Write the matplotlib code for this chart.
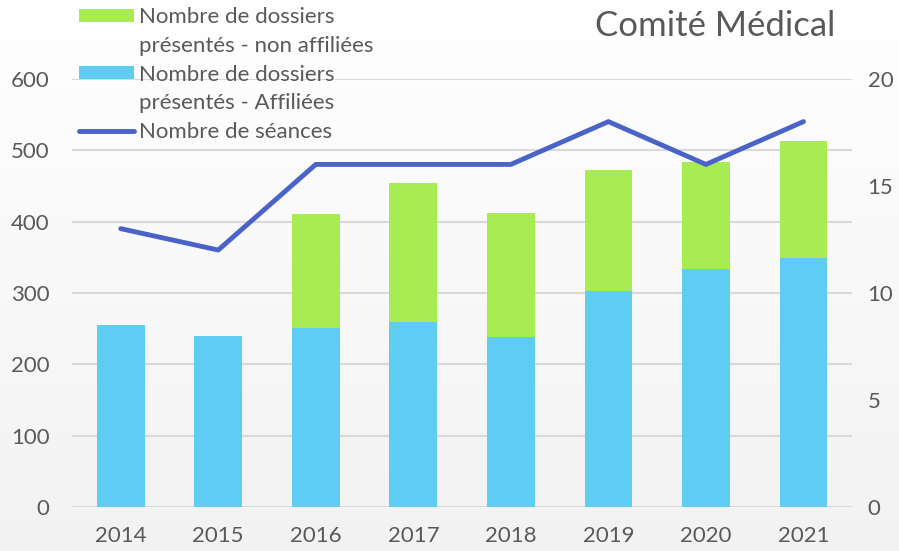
import numpy as np
import matplotlib.pyplot as plt
from matplotlib.patches import Patch

plt.rcParams['font.family'] = ['Lato', 'DejaVu Sans']

# données
annees = ['2014', '2015', '2016', '2017', '2018', '2019', '2020', '2021']
affiliees = [255, 240, 251, 259, 238, 303, 334, 349]
non_affiliees = [0, 0, 160, 195, 174, 169, 150, 164]
seances = [13, 12, 16, 16, 16, 18, 16, 18]

c_vert = '#A9EB52'
c_bleu = '#5FCCF3'
c_ligne = '#4A63C8'
c_texte = '#595959'

fig = plt.figure(figsize=(8.99, 5.51), dpi=100)

# fond en dégradé blanc -> gris clair
bg = fig.add_axes([0, 0, 1, 1], zorder=-10)
grad = np.linspace(1.0, 0.95, 256).reshape(-1, 1)
bg.imshow(np.dstack([grad, grad, grad]), aspect='auto', extent=[0, 1, 0, 1])
bg.axis('off')

ax = fig.add_axes([0.080, 0.080, 0.868, 0.777])
ax.patch.set_alpha(0)
x = np.arange(len(annees))
b1 = ax.bar(x, affiliees, width=0.49, color=c_bleu, zorder=2)
b2 = ax.bar(x, non_affiliees, width=0.49, bottom=affiliees, color=c_vert, zorder=2)
ax.set_xlim(-0.5, 7.5)
ax.set_ylim(0, 600)
ax.set_yticks(range(0, 601, 100))
ax.set_xticks(x)
ax.set_xticklabels(annees)
ax.grid(axis='y', color='#d9d9d9', linewidth=1.5, zorder=0)
ax.set_axisbelow(True)
for s in ax.spines.values():
    s.set_visible(False)
ax.tick_params(length=0, labelsize=16, colors=c_texte, pad=14)
ax.tick_params(axis='y', pad=16)

ax2 = ax.twinx()
l1, = ax2.plot(x, seances, color=c_ligne, linewidth=3.5, zorder=3,
               solid_capstyle='round')
ax2.set_ylim(0, 20)
ax2.set_yticks(range(0, 21, 5))
for s in ax2.spines.values():
    s.set_visible(False)
ax2.tick_params(length=0, labelsize=16, colors=c_texte, pad=11)

# légende : une ligne de texte par entrée pour aligner les symboles sur la 1re ligne
vide = Patch(alpha=0)
handles = [b2, vide, b1, vide, l1]
labels = ['Nombre de dossiers', 'présentés - non affiliées',
          'Nombre de dossiers', 'présentés - Affiliées',
          'Nombre de séances']
leg = fig.legend(handles, labels,
                 loc='upper left', bbox_to_anchor=(0.085, 0.991), frameon=False,
                 fontsize=16, labelcolor=c_texte, handlelength=2.5, handleheight=0.5,
                 handletextpad=0.2, labelspacing=0.39, borderaxespad=0,
                 borderpad=0.1)

fig.text(0.929, 0.952, 'Comité Médical', ha='right', va='center', fontsize=25,
         color=c_texte)

fig.savefig('out.png', dpi=100)
